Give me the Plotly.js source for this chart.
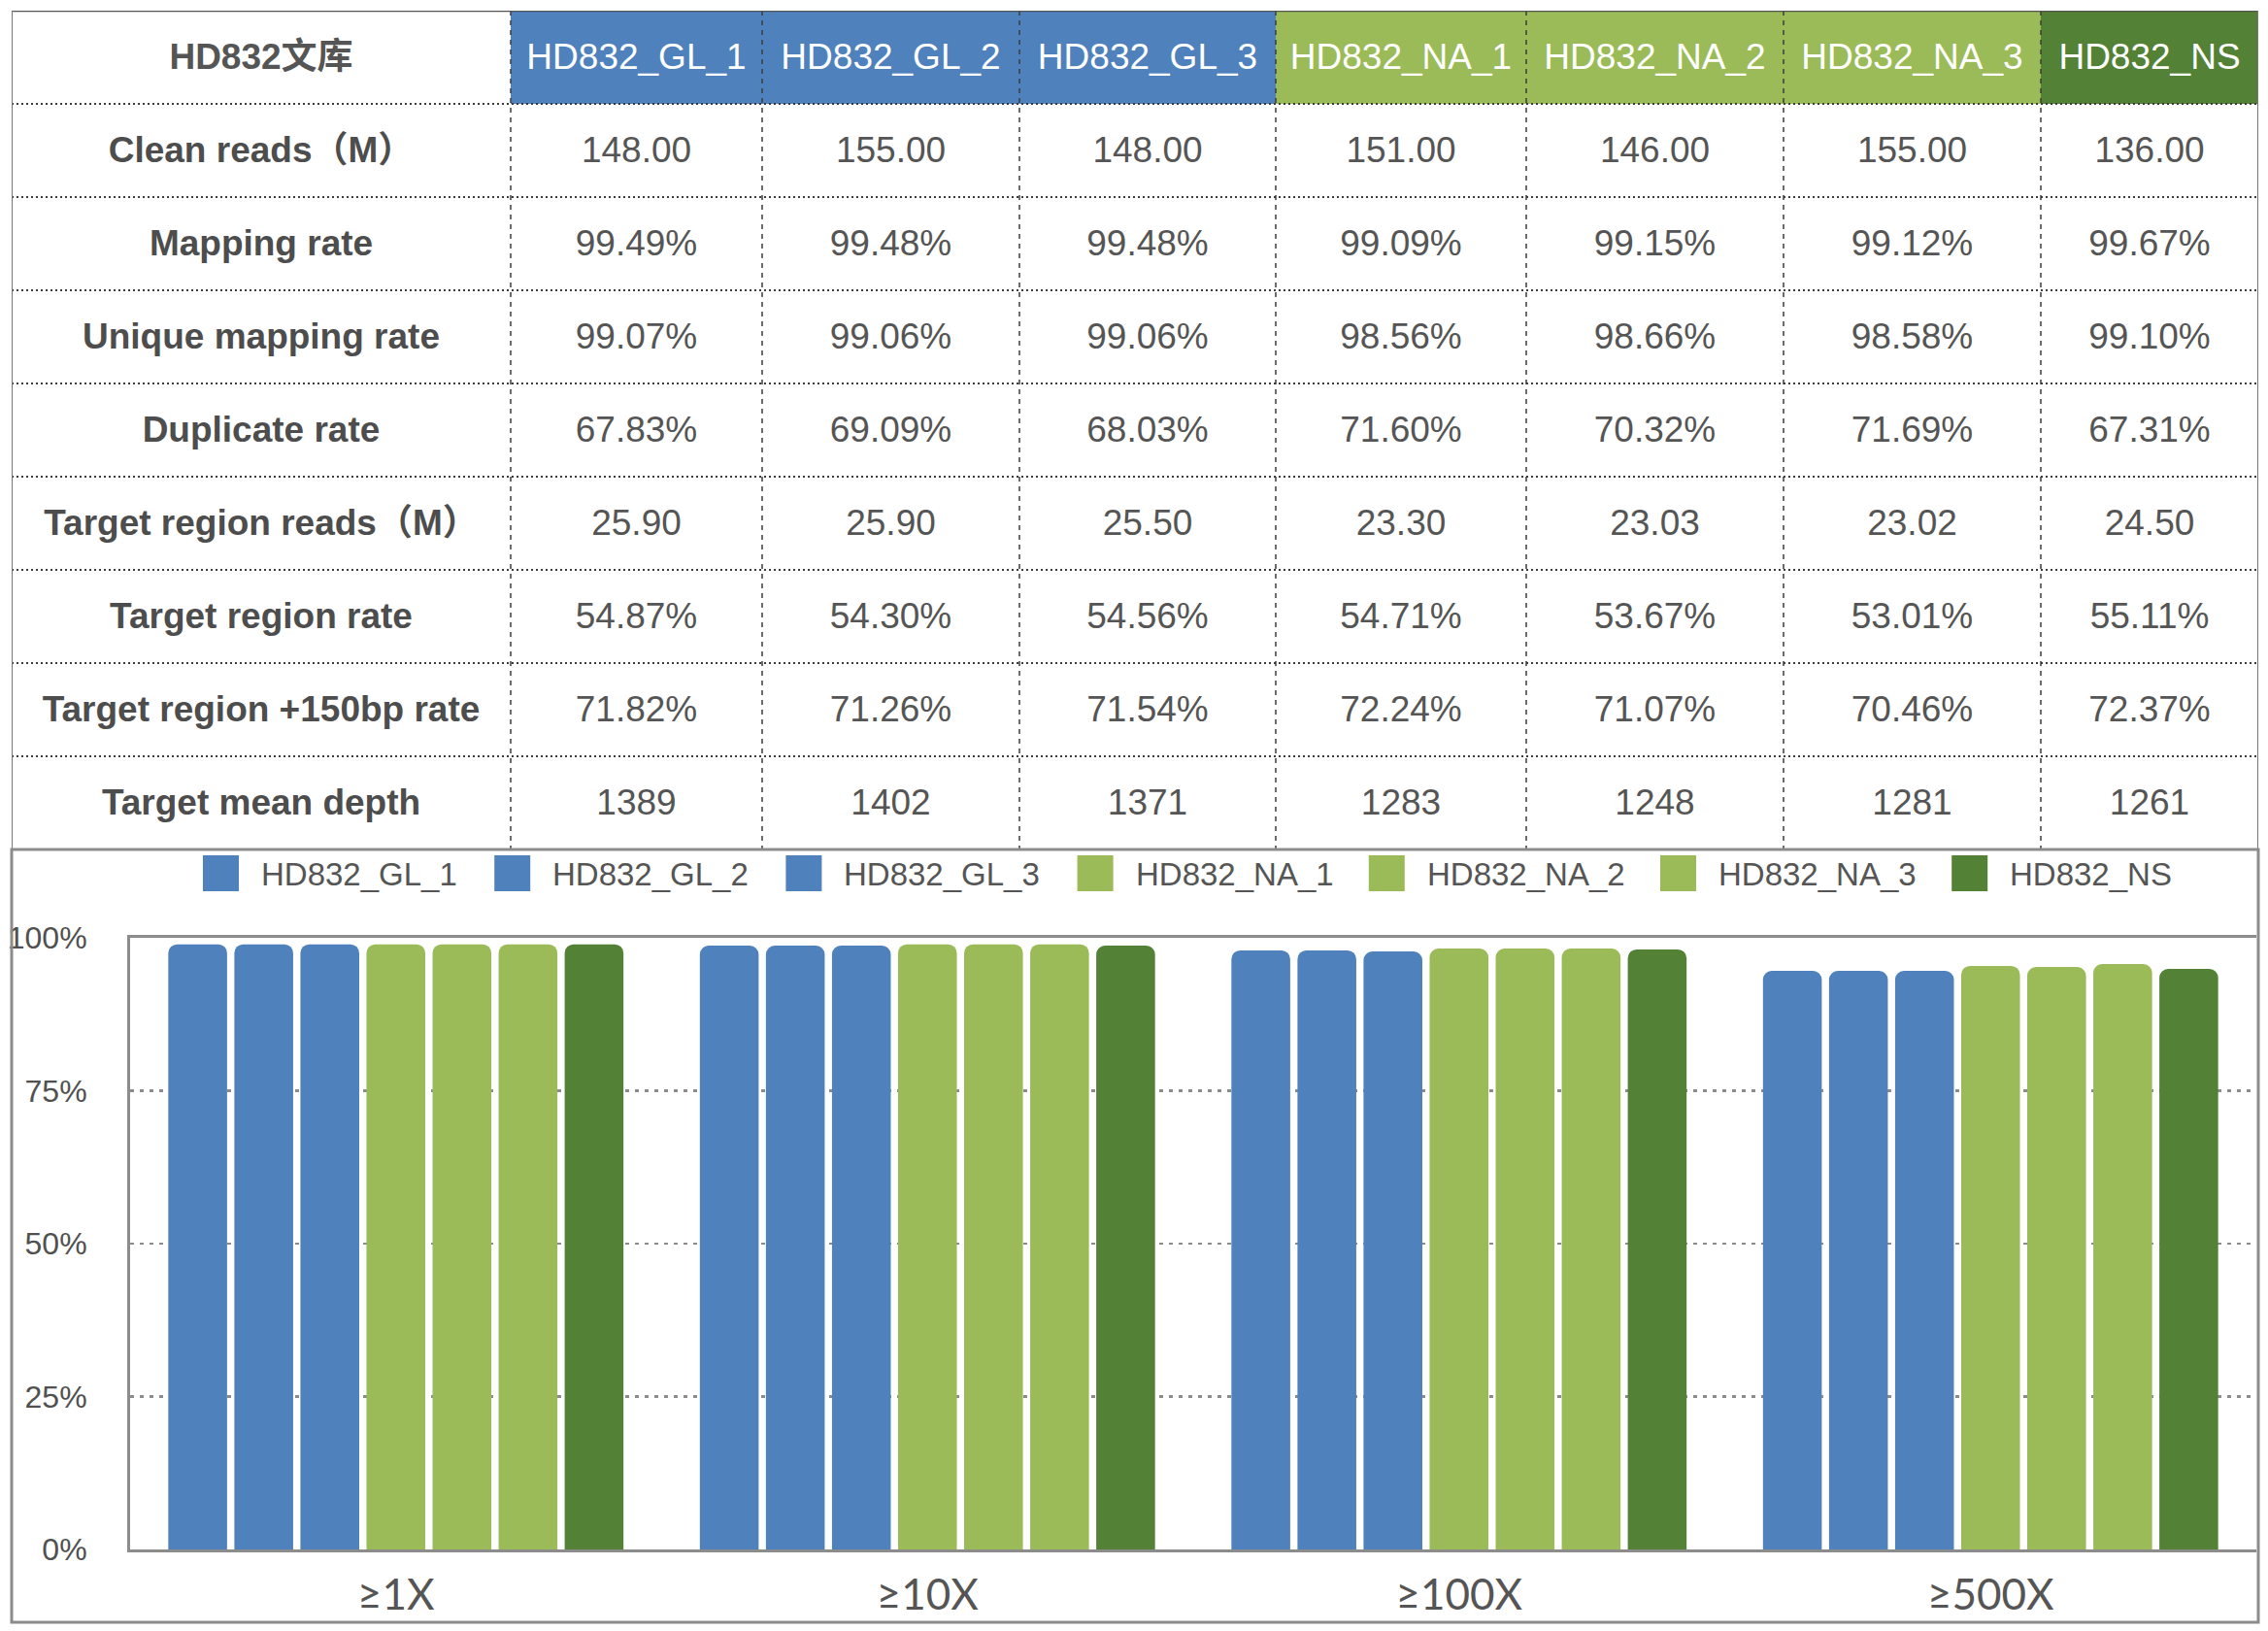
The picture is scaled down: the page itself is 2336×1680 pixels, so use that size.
<!DOCTYPE html>
<html>
<head>
<meta charset="utf-8">
<script src="https://cdn.plot.ly/plotly-3.0.1.min.js"></script>
<style>html,body{margin:0;padding:0;background:#fff;}#chart{width:2336px;height:1680px;}</style>
</head>
<body>
<div id="chart"></div>
<script>
// ---------------- DATA ----------------
const samples = ['HD832_GL_1','HD832_GL_2','HD832_GL_3','HD832_NA_1','HD832_NA_2','HD832_NA_3','HD832_NS'];
const sampleGroup = ['GL','GL','GL','NA','NA','NA','NS'];
const tableCorner = 'HD832文库';
const rowLabels = ['Clean reads（M）','Mapping rate','Unique mapping rate','Duplicate rate',
  'Target region reads（M）','Target region rate','Target region +150bp rate','Target mean depth'];
const cleanReads   = [148.00,155.00,148.00,151.00,146.00,155.00,136.00];
const mappingRate  = [99.49,99.48,99.48,99.09,99.15,99.12,99.67];
const uniqueRate   = [99.07,99.06,99.06,98.56,98.66,98.58,99.10];
const duplicateRate= [67.83,69.09,68.03,71.60,70.32,71.69,67.31];
const targetReads  = [25.90,25.90,25.50,23.30,23.03,23.02,24.50];
const targetRate   = [54.87,54.30,54.56,54.71,53.67,53.01,55.11];
const target150Rate= [71.82,71.26,71.54,72.24,71.07,70.46,72.37];
const meanDepth    = [1389,1402,1371,1283,1248,1281,1261];

const depthCats = ['≥1X','≥10X','≥100X','≥500X'];
// coverage fraction per sample, one value per depth category
const cov_GL_1 = [0.9894,0.9873,0.9794,0.9460];
const cov_GL_2 = [0.9894,0.9873,0.9794,0.9460];
const cov_GL_3 = [0.9894,0.9873,0.9778,0.9460];
const cov_NA_1 = [0.9894,0.9894,0.9825,0.9540];
const cov_NA_2 = [0.9894,0.9894,0.9825,0.9524];
const cov_NA_3 = [0.9894,0.9894,0.9825,0.9571];
const cov_NS   = [0.9894,0.9873,0.9810,0.9492];
const coverage = [cov_GL_1,cov_GL_2,cov_GL_3,cov_NA_1,cov_NA_2,cov_NA_3,cov_NS];

// ---------------- STYLE / LAYOUT ----------------
const W = 2336, H = 1680;
const groupColor = {GL:'#4F81BD', NA:'#9BBB59', NS:'#538135'};
const colWidths = [514,259,265,264,258,265,265,224];
const textColor = '#555555';
const FONT = '"Liberation Sans", Arial, "Noto Sans CJK SC", sans-serif';
const px = x => x / W;
const py = y => 1 - y / H;
const textShift = 0.03; // small vertical nudge of cell text (row units)

const colEdges = [0];
colWidths.forEach(w => colEdges.push(colEdges[colEdges.length-1] + w));
const colCenter = i => (colEdges[i] + colEdges[i+1]) / 2;

const fmt2 = v => v.toFixed(2);
const pct = v => v.toFixed(2) + '%';
const rowValues = [
  cleanReads.map(fmt2), mappingRate.map(pct), uniqueRate.map(pct), duplicateRate.map(pct),
  targetReads.map(fmt2), targetRate.map(pct), target150Rate.map(pct), meanDepth.map(v => String(v))
];

const traces = [];
// bars
samples.forEach((s, i) => {
  traces.push({
    type: 'bar', name: s, x: depthCats, y: coverage[i],
    marker: {color: groupColor[sampleGroup[i]], cornerradius: 9},
    showlegend: false, hoverinfo: 'skip'
  });
});

// header row
traces.push({
  type: 'scatter', mode: 'text', xaxis: 'x2', yaxis: 'y2',
  x: [colCenter(0)], y: [0.5 + textShift], text: [tableCorner],
  textfont: {family: FONT, size: 37, color: textColor, weight: 'bold'},
  hoverinfo: 'skip', showlegend: false, cliponaxis: false
});
traces.push({
  type: 'scatter', mode: 'text', xaxis: 'x2', yaxis: 'y2',
  x: samples.map((s, i) => colCenter(i+1)), y: samples.map(() => 0.5 + textShift), text: samples,
  textfont: {family: FONT, size: 37, color: '#ffffff'},
  hoverinfo: 'skip', showlegend: false, cliponaxis: false
});
// row labels
traces.push({
  type: 'scatter', mode: 'text', xaxis: 'x2', yaxis: 'y2',
  x: rowLabels.map(() => colCenter(0)), y: rowLabels.map((r, j) => j + 1.5 + textShift), text: rowLabels,
  textfont: {family: FONT, size: 37, color: '#4d4d4d', weight: 'bold'},
  hoverinfo: 'skip', showlegend: false, cliponaxis: false
});
// values
const vx = [], vy = [], vt = [];
rowValues.forEach((row, j) => row.forEach((v, i) => { vx.push(colCenter(i+1)); vy.push(j + 1.5 + textShift); vt.push(v); }));
traces.push({
  type: 'scatter', mode: 'text', xaxis: 'x2', yaxis: 'y2',
  x: vx, y: vy, text: vt,
  textfont: {family: FONT, size: 37, color: textColor},
  hoverinfo: 'skip', showlegend: false, cliponaxis: false
});

const shapes = [];
const annotations = [];
const nRows = rowLabels.length + 1;
// header fills
samples.forEach((s, i) => {
  shapes.push({type:'rect', xref:'x2', yref:'y2', x0: colEdges[i+1], x1: colEdges[i+2], y0: 0, y1: 1,
    fillcolor: groupColor[sampleGroup[i]], line: {width: 0}, layer: 'below'});
});
// dotted horizontal row separators
for (let r = 1; r < nRows; r++) {
  shapes.push({type:'line', xref:'x2', yref:'y2', x0: 0, x1: colEdges[colEdges.length-1], y0: r, y1: r,
    line: {color: '#3c3c3c', width: 2, dash: '2px,3px'}});
}
// dashed vertical column separators
for (let c = 1; c < colEdges.length - 1; c++) {
  shapes.push({type:'line', xref:'x2', yref:'y2', x0: colEdges[c], x1: colEdges[c], y0: 0, y1: nRows,
    line: {color: '#3c3c3c', width: 1.5, dash: '5px,5px'}});
}
// table outer border (top, left, right)
shapes.push({type:'line', xref:'x2', yref:'y2', x0: 0, x1: colEdges[colEdges.length-1], y0: 0, y1: 0, line:{color:'#555', width:2.5}});
shapes.push({type:'line', xref:'x2', yref:'y2', x0: 0, x1: 0, y0: 0, y1: nRows, line:{color:'#777', width:2}});
shapes.push({type:'line', xref:'x2', yref:'y2', x0: colEdges[colEdges.length-1], x1: colEdges[colEdges.length-1], y0: 0, y1: nRows, line:{color:'#777', width:2}});
// chart outer box
shapes.push({type:'rect', xref:'paper', yref:'paper', x0: px(12), x1: px(2326), y0: py(1671), y1: py(875),
  line:{color:'#8c8c8c', width:3}, fillcolor:'rgba(0,0,0,0)'});

// manual legend
const legStart = 209, legStep = 300.2, legBox = 37;
samples.forEach((s, i) => {
  const x0 = legStart + i * legStep;
  shapes.push({type:'rect', xref:'paper', yref:'paper', x0: px(x0), x1: px(x0 + legBox), y0: py(918), y1: py(881),
    fillcolor: groupColor[sampleGroup[i]], line:{width:0}});
  annotations.push({xref:'paper', yref:'paper', x: px(x0 + legBox + 21), y: py(900), text: s, showarrow:false,
    xanchor:'left', yanchor:'middle', font:{family: FONT, size: 33, color: textColor}});
});

const layout = {
  width: W, height: H,
  margin: {l:0, r:0, t:0, b:0, pad:0},
  paper_bgcolor: '#ffffff', plot_bgcolor: '#ffffff',
  showlegend: false,
  barmode: 'group', bargap: 0.13, bargroupgap: 0.11,
  xaxis: {
    domain: [px(134), px(2324)], type: 'category',
    showline: true, mirror: true, linecolor: '#8c8c8c', linewidth: 3,
    showgrid: false, ticks: '', ticklabelstandoff: 6,
    tickfont: {family: 'Lato, "Liberation Sans", sans-serif', size: 44, color: '#555'},
    fixedrange: true
  },
  yaxis: {
    domain: [py(1596), py(966)], range: [0, 1],
    tickvals: [0, 0.25, 0.5, 0.75, 1], tickformat: '.0%',
    showline: true, linecolor: '#8c8c8c', linewidth: 3,
    showgrid: true, gridcolor: '#8c8c8c', gridwidth: 2.5, griddash: '4px,6px',
    zeroline: false, ticks: '', ticklabelstandoff: 35,
    tickfont: {family: FONT, size: 32, color: '#505050'},
    fixedrange: true
  },
  xaxis2: {domain: [px(12), px(2326)], range: [0, colEdges[colEdges.length-1]], anchor: 'y2', visible: false, fixedrange: true},
  yaxis2: {domain: [py(875), py(11)], range: [nRows, 0], anchor: 'x2', visible: false, fixedrange: true},
  shapes: shapes,
  annotations: annotations
};

Plotly.newPlot('chart', traces, layout, {displayModeBar: false, staticPlot: true});
</script>
</body>
</html>
